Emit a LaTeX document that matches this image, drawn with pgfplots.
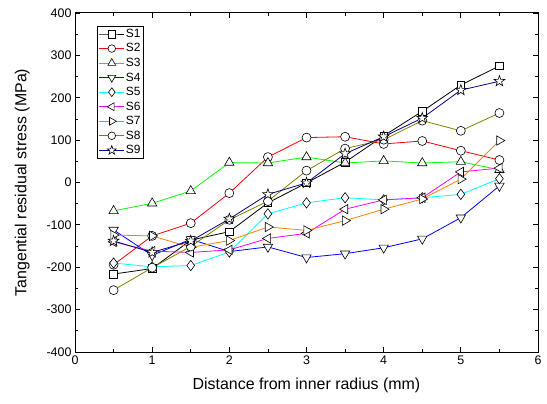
\documentclass[border=0pt]{standalone}
\usepackage{pgfplots}
\pgfplotsset{compat=1.18}
\usepackage{fontspec}
\setmainfont{Liberation Sans}
\definecolor{cS1}{RGB}{0,0,0}
\definecolor{cS2}{RGB}{255,0,0}
\definecolor{cS3}{RGB}{0,255,0}
\definecolor{cS4}{RGB}{0,0,255}
\definecolor{cS5}{RGB}{0,255,255}
\definecolor{cS6}{RGB}{255,0,255}
\definecolor{cS7}{RGB}{255,128,0}
\definecolor{cS8}{RGB}{128,128,0}
\definecolor{cS9}{RGB}{0,0,128}
\pgfdeclareplotmark{ostar}{%
  \pgfpathmoveto{\pgfpointpolar{90}{1.25\pgfplotmarksize}}%
  \pgfpathlineto{\pgfpointpolar{126}{0.5\pgfplotmarksize}}%
  \pgfpathlineto{\pgfpointpolar{162}{1.25\pgfplotmarksize}}%
  \pgfpathlineto{\pgfpointpolar{198}{0.5\pgfplotmarksize}}%
  \pgfpathlineto{\pgfpointpolar{234}{1.25\pgfplotmarksize}}%
  \pgfpathlineto{\pgfpointpolar{270}{0.5\pgfplotmarksize}}%
  \pgfpathlineto{\pgfpointpolar{306}{1.25\pgfplotmarksize}}%
  \pgfpathlineto{\pgfpointpolar{342}{0.5\pgfplotmarksize}}%
  \pgfpathlineto{\pgfpointpolar{18}{1.25\pgfplotmarksize}}%
  \pgfpathlineto{\pgfpointpolar{54}{0.5\pgfplotmarksize}}%
  \pgfpathclose
  \pgfusepathqfillstroke}
\pgfplotstableread{
x    S1    S2    S3    S4    S5    S6    S7    S8    S9
0.5 -216  -194  -67  -112  -190  -140  -124  -254  -138
1.0 -203  -126  -49  -172  -199  -162  -126  -201  -165
1.5 -136   -96  -20  -134  -196  -165  -153  -151  -138
2.0 -116   -25   47  -163  -164  -159  -137   -88   -86
2.5  -48    60   46  -152   -74  -132  -105   -44   -28
3.0   -1   106   60  -177   -48  -120  -113    28    -1
3.5   48   108   46  -168   -36   -63   -90    80    68
4.0  110    91   51  -154   -41   -41   -63   101   108
4.5  168    98   46  -133   -36   -36   -39   146   152
5.0  230    75   49   -83   -28    25     8   122   218
5.5  275    53   30    -8     9    34    99   164   239
}\datatable
\tikzset{mk/.style={draw=black, fill=white, solid, line width=0.6bp}}
\begin{document}
\begin{tikzpicture}
\begin{axis}[
  scale only axis, width=463bp, height=339bp,
  xmin=0, xmax=6, ymin=-400, ymax=400,
  xtick={0,1,...,6}, ytick={-400,-300,...,400},
  minor x tick num=1, minor y tick num=1,
  tick align=inside, major tick length=5bp, minor tick length=3bp,
  tick style={black, line width=0.8bp},
  axis line style={line width=1bp},
  ticklabel style={font=\fontsize{12.5}{14}\selectfont},
  xlabel style={font=\fontsize{16}{18}\selectfont, yshift=-7bp},
  ylabel style={font=\fontsize{16}{18}\selectfont, yshift=10bp},
  xlabel={Distance from inner radius (mm)},
  ylabel={Tangential residual stress (MPa)},
  /pgf/number format/assume math mode=true,
  every axis plot/.append style={line width=0.8bp, mark size=4.5bp},
  legend style={at={(rel axis cs:0.0475,0.9617)}, anchor=north west,
     draw=black, line width=0.8bp, font=\fontsize{12}{13}\selectfont,
     inner xsep=1.5bp, inner ysep=1.5bp, row sep=2.3bp, nodes={inner sep=1.2bp}},
  legend cell align=left,
  legend image code/.code={\draw[mark repeat=2, mark phase=2, mark size=3.8bp]
     plot coordinates {(0bp,0bp) (12.5bp,0bp) (25bp,0bp)};},
]
\addplot[cS1, mark=square*, mark size=3.8bp, mark options={mk}] table[x=x,y=S1] {\datatable};
\addplot[cS2, mark=*, mark options={mk}] table[x=x,y=S2] {\datatable};
\addplot[cS3, mark=triangle*, mark options={mk, scale=1.2}] table[x=x,y=S3] {\datatable};
\addplot[cS4, mark=triangle*, mark options={mk, scale=1.2, rotate=180}] table[x=x,y=S4] {\datatable};
\addplot[cS5, mark=diamond*, mark options={mk, scale=1.15}] table[x=x,y=S5] {\datatable};
\addplot[cS6, mark=triangle*, mark options={mk, scale=1.2, rotate=90}] table[x=x,y=S6] {\datatable};
\addplot[cS7, mark=triangle*, mark options={mk, scale=1.2, rotate=-90}] table[x=x,y=S7] {\datatable};
\addplot[cS8, mark=*, mark options={mk}] table[x=x,y=S8] {\datatable};
\addplot[cS9, mark=ostar, mark options={mk}] table[x=x,y=S9] {\datatable};
\legend{S1,S2,S3,S4,S5,S6,S7,S8,S9}
\end{axis}
\path[use as bounding box] ([xshift=-75bp,yshift=-51bp]current axis.south west) rectangle ([xshift=9bp,yshift=13bp]current axis.north east);
\end{tikzpicture}
\end{document}
